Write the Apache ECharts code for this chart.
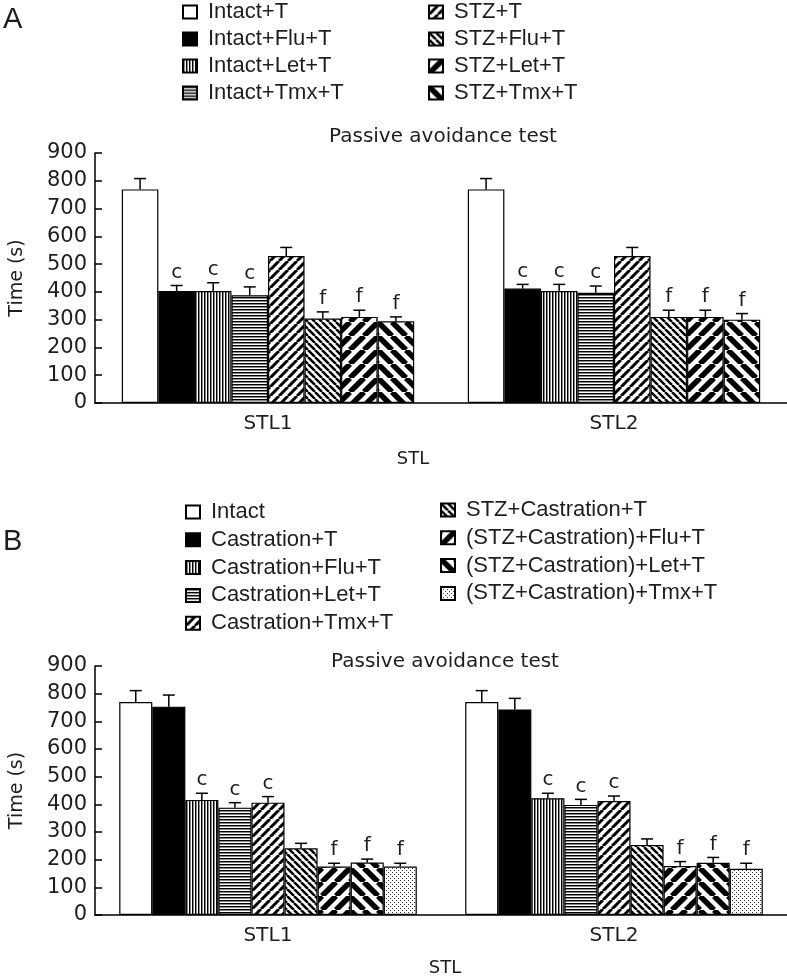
<!DOCTYPE html>
<html><head><meta charset="utf-8">
<script src="https://cdn.jsdelivr.net/npm/echarts@6/dist/echarts.min.js"></script>
<style>html,body{margin:0;padding:0;background:#fff}#c{width:787px;height:979px}</style>
</head><body><div id="c"></div>
<script>
// ---------- DATA ----------
const categories = ['STL1', 'STL2'];

const seriesA = ['Intact+T', 'Intact+Flu+T', 'Intact+Let+T', 'Intact+Tmx+T',
                 'STZ+T', 'STZ+Flu+T', 'STZ+Let+T', 'STZ+Tmx+T'];
// [STL1, STL2]
const valuesA = [[769, 769], [403, 412], [403, 403], [388, 397],
                 [529, 529], [304, 310], [310, 310], [294, 300]];
const errorsA = [[39, 39], [20, 15], [30, 24], [30, 24],
                 [31, 31], [24, 24], [24, 24], [16, 22]];
const lettersA = ['', 'c', 'c', 'c', '', 'f', 'f', 'f'];

const seriesB = ['Intact', 'Castration+T', 'Castration+Flu+T', 'Castration+Let+T', 'Castration+Tmx+T',
                 'STZ+Castration+T', '(STZ+Castration)+Flu+T', '(STZ+Castration)+Let+T', '(STZ+Castration)+Tmx+T'];
const valuesB = [[770, 770], [753, 743], [416, 422], [388, 398], [406, 412],
                 [241, 253], [175, 177], [190, 189], [175, 167]];
const errorsB = [[41, 41], [42, 40], [24, 18], [18, 20], [22, 18],
                 [18, 22], [12, 16], [12, 19], [12, 20]];
const lettersB = ['', '', 'c', 'c', 'c', '', 'f', 'f', 'f'];

// ---------- PATTERNS ----------
function tile(w, h, draw) {
  const c = document.createElement('canvas');
  c.width = w; c.height = h;
  const ctx = c.getContext('2d');
  ctx.fillStyle = '#fff'; ctx.fillRect(0, 0, w, h);
  draw(ctx, w, h);
  return { image: c, repeat: 'repeat' };
}
function diag(p, lw, dir) {
  return tile(p, p, (ctx) => {
    ctx.strokeStyle = '#000'; ctx.lineWidth = lw; ctx.beginPath();
    for (let k = -1; k <= 1; k++) {
      if (dir === '/') { ctx.moveTo(k * p, p); ctx.lineTo(k * p + p, 0); }
      else { ctx.moveTo(k * p, 0); ctx.lineTo(k * p + p, p); }
    }
    ctx.stroke();
  });
}
const P = {
  white: '#ffffff',
  black: '#000000',
  vert: tile(3, 3, (ctx) => { ctx.fillStyle = '#000'; ctx.fillRect(0, 0, 1, 3); ctx.fillStyle = '#888'; ctx.fillRect(1, 0, 1, 3); }),
  horiz: tile(3, 3, (ctx) => { ctx.fillStyle = '#000'; ctx.fillRect(0, 0, 3, 1); ctx.fillStyle = '#888'; ctx.fillRect(0, 1, 3, 1); }),
  slash: diag(9, 3, '/'),
  back: diag(7, 2.5, '\\'),
  thickSlash: diag(14, 5.5, '/'),
  thickBack: diag(14, 5.5, '\\'),
  dots: tile(4, 4, (ctx) => { ctx.fillStyle = '#333'; ctx.fillRect(0, 0, 1, 1); ctx.fillRect(2, 2, 1, 1); })
};
const fillsA = [P.white, P.black, P.vert, P.horiz, P.slash, P.back, P.thickSlash, P.thickBack];
const fillsB = [P.white, P.black, P.vert, P.horiz, P.slash, P.back, P.thickSlash, P.thickBack, P.dots];

// ---------- CHART ----------
const gapA = 0.155, gapB = 0.14;
const txt = '#1e1e1e';
const sans = "'Liberation Sans', Arial, sans-serif";
const wide = "'DejaVu Sans', sans-serif";

function barSeries(names, vals, fills, axis, gap) {
  return names.map((n, i) => ({
    type: 'bar', name: n, xAxisIndex: axis, yAxisIndex: axis, data: vals[i],
    barGap: '0%', barCategoryGap: (gap * 100) + '%',
    itemStyle: { color: fills[i], borderColor: '#000', borderWidth: 1.2 },
    emphasis: { disabled: true }, silent: true
  }));
}
function errSeries(vals, errs, letters, axis, gap) {
  const n = vals.length;
  const data = [];
  vals.forEach((arr, k) => arr.forEach((v, j) => data.push([j, k, v, errs[k][j]])));
  return {
    type: 'custom', xAxisIndex: axis, yAxisIndex: axis, data, z: 5, silent: true,
    encode: { x: 0, y: 2 },
    renderItem: (params, api) => {
      const j = api.value(0), k = api.value(1), v = api.value(2), e = api.value(3);
      const band = api.size([1, 0])[0];
      const groupW = band * (1 - gap);
      const bw = groupW / n;
      const cx = api.coord([j, 0])[0] - groupW / 2 + bw * (k + 0.5);
      const yTop = api.coord([j, v])[1];
      const yE = api.coord([j, v + e])[1];
      return { type: 'group', children: [
        { type: 'line', shape: { x1: cx, y1: yTop, x2: cx, y2: yE }, style: { stroke: '#000', lineWidth: 1.5 } },
        { type: 'line', shape: { x1: cx - 6, y1: yE, x2: cx + 6, y2: yE }, style: { stroke: '#000', lineWidth: 1.5 } },
        { type: 'text', x: cx, y: yE - 3, style: { text: letters[k], fill: txt, font: '20px ' + wide, align: 'center', verticalAlign: 'bottom' } }
      ]};
    }
  };
}
function xAx(idx) {
  return { type: 'category', gridIndex: idx, data: categories,
    axisLine: { lineStyle: { color: '#000', width: 1.5 } }, axisTick: { show: false },
    axisLabel: { color: txt, fontSize: 20, fontFamily: wide, margin: 11 } };
}
function yAx(idx) {
  return { type: 'value', gridIndex: idx, min: 0, max: 900, interval: 100,
    axisLine: { show: true, lineStyle: { color: '#000', width: 1.5 } },
    axisTick: { show: true, inside: true, length: 7, lineStyle: { color: '#000', width: 1.5 } },
    splitLine: { show: false },
    axisLabel: { color: txt, fontSize: 21, fontFamily: wide, margin: 8 },
    name: 'Time (s)', nameLocation: 'middle', nameGap: 68,
    nameTextStyle: { color: txt, fontSize: 19, fontFamily: wide } };
}
function legend(names, left, top, gap) {
  return { data: names, left, top, orient: 'vertical', padding: 0, icon: 'rect',
    itemWidth: 14, itemHeight: 13, itemGap: gap, selectedMode: false,
    textStyle: { color: txt, fontSize: 22, lineHeight: 20, fontFamily: sans, padding: [0, 0, 0, 6] } };
}
function gtext(text, x, y, size, family, align) {
  return { type: 'text', x, y, silent: true,
    style: { text, fill: txt, font: size + 'px ' + family, align: align || 'center', verticalAlign: 'middle' } };
}

const chart = echarts.init(document.getElementById('c'), null, { renderer: 'canvas' });
chart.setOption({
  animation: false,
  backgroundColor: '#fff',
  grid: [
    { left: 88, top: 153, width: 710, height: 250 },
    { left: 88, top: 666, width: 710, height: 249 }
  ],
  xAxis: [xAx(0), xAx(1)],
  yAxis: [yAx(0), yAx(1)],
  legend: [
    legend(seriesA.slice(0, 4), 182, 1, 5),
    legend(seriesA.slice(4), 428, 1, 5),
    legend(seriesB.slice(0, 5), 185, 501, 5.8),
    legend(seriesB.slice(5), 440, 499, 5.8)
  ],
  graphic: [
    gtext('A', 3, 20, 29, sans, 'left'),
    gtext('B', 3, 542, 29, sans, 'left'),
    gtext('Passive avoidance test', 443, 137, 20, wide),
    gtext('Passive avoidance test', 445, 662, 20, wide),
    gtext('STL', 413, 459, 18, wide),
    gtext('STL', 445, 968, 18, wide)
  ],
  series: [
    ...barSeries(seriesA, valuesA, fillsA, 0, gapA),
    errSeries(valuesA, errorsA, lettersA, 0, gapA),
    ...barSeries(seriesB, valuesB, fillsB, 1, gapB),
    errSeries(valuesB, errorsB, lettersB, 1, gapB)
  ]
});
</script>
</body></html>
